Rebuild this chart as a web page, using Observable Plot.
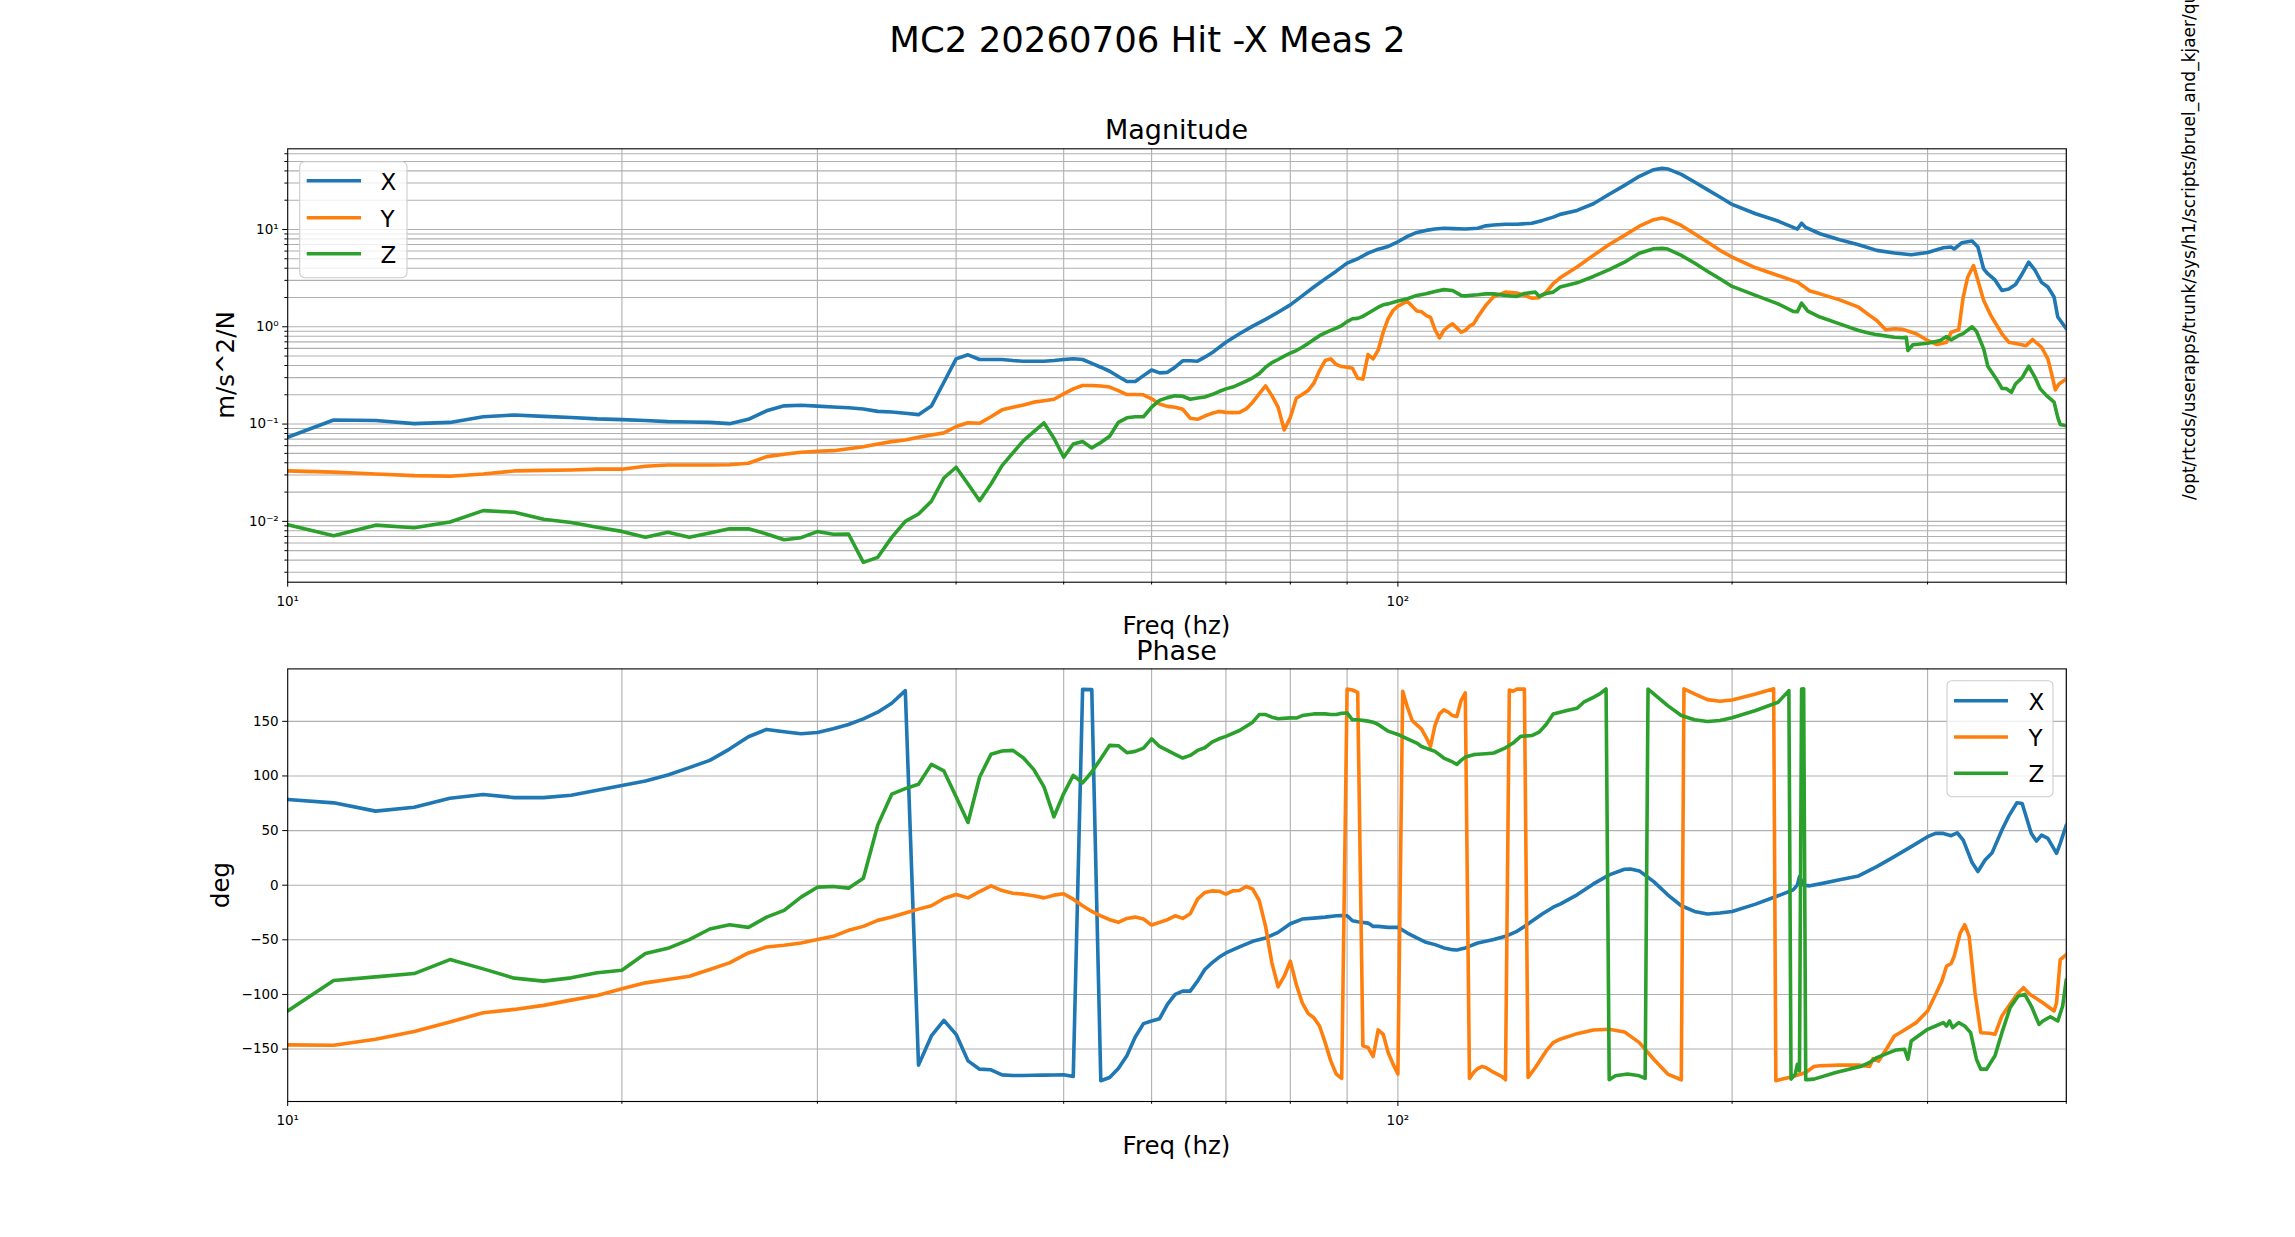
<!DOCTYPE html>
<html><head><meta charset="utf-8">
<script src="https://cdn.jsdelivr.net/npm/d3@7"></script>
<script src="https://cdn.jsdelivr.net/npm/@observablehq/plot@0.6"></script>
<style>
html,body{margin:0;padding:0;background:#fff;}
#fig{position:relative;width:2295px;height:1237px;overflow:hidden;background:#fff;font-family:"DejaVu Sans",sans-serif;}
#fig > svg{position:absolute;left:0;}
</style></head><body><div id="fig"></div>
<script>
// ---------- data: [frequency Hz, value] ----------
const magX = [[10,0.0732],[11,0.110],[12,0.109],[13,0.101],[14,0.104],[15,0.119],[16,0.124],[17,0.120],[18,0.117],[19,0.113],[20,0.111],[21,0.109],[22,0.106],[23,0.105],[24,0.104],[25,0.101],[26,0.112],[27,0.137],[28,0.154],[29,0.156],[30,0.153],[31,0.150],[32,0.147],[33,0.143],[34,0.135],[35,0.133],[36,0.129],[37,0.125],[38,0.153],[39,0.269],[40,0.468],[41,0.515],[42,0.461],[43,0.461],[44,0.461],[45,0.450],[46,0.443],[47,0.443],[48,0.443],[49,0.450],[50,0.461],[51,0.470],[52,0.461],[53,0.420],[54,0.384],[55,0.349],[56,0.308],[57,0.274],[58,0.274],[59,0.315],[60,0.360],[61,0.336],[62,0.340],[63,0.384],[64,0.447],[65,0.447],[66,0.443],[67,0.487],[68,0.540],[70,0.694],[72,0.847],[74,1.015],[76,1.19],[78,1.41],[80,1.68],[82,2.08],[84,2.56],[86,3.11],[88,3.73],[90,4.51],[92,5.0],[94,5.71],[96,6.28],[98,6.69],[100,7.48],[102,8.49],[104,9.33],[106,9.79],[108,10.1],[110,10.3],[112,10.2],[115,10.1],[118,10.3],[120,10.9],[122,11.1],[125,11.3],[128,11.3],[132,11.6],[135,12.4],[138,13.4],[140,14.3],[145,15.7],[150,18.4],[155,23.0],[160,28.4],[165,35.2],[170,41.2],[173,42.5],[175,41.9],[180,36.9],[185,30.8],[190,25.7],[195,21.6],[200,18.1],[210,14.5],[220,12.2],[229,10.1],[231,11.6],[233,10.5],[240,9.04],[250,7.85],[260,6.97],[270,6.1],[280,5.73],[290,5.5],[300,5.81],[310,6.49],[315,6.6],[317,6.3],[322,7.3],[329,7.6],[333,6.6],[337,3.93],[340,3.49],[345,3.03],[350,2.36],[355,2.45],[360,2.72],[365,3.49],[370,4.61],[375,3.79],[380,2.86],[385,2.56],[390,2.02],[393,1.26],[400,0.953]];

const magY = [[10,0.0330],[11,0.0321],[12,0.0307],[13,0.0295],[14,0.0291],[15,0.0307],[16,0.0330],[17,0.0334],[18,0.0337],[19,0.0344],[20,0.0344],[21,0.0368],[22,0.0379],[23,0.0379],[24,0.0379],[25,0.0382],[26,0.0396],[27,0.0463],[28,0.0490],[29,0.0514],[30,0.0525],[31,0.0533],[32,0.0558],[33,0.0585],[34,0.0625],[35,0.066],[36,0.0687],[37,0.0732],[38,0.0774],[39,0.0812],[40,0.0944],[41,0.103],[42,0.102],[43,0.119],[44,0.140],[45,0.149],[46,0.157],[47,0.168],[48,0.174],[49,0.180],[50,0.204],[51,0.230],[52,0.249],[53,0.249],[54,0.246],[55,0.240],[56,0.221],[57,0.201],[58,0.201],[59,0.200],[60,0.182],[61,0.161],[62,0.152],[63,0.149],[64,0.142],[65,0.115],[66,0.112],[67,0.121],[68,0.129],[69,0.135],[70,0.132],[71,0.131],[72,0.132],[73,0.143],[74,0.168],[75,0.204],[76,0.247],[77,0.196],[78,0.149],[79,0.0869],[80,0.117],[81,0.184],[82,0.201],[83,0.221],[84,0.263],[85,0.355],[86,0.450],[87,0.468],[88,0.41],[89,0.39],[90,0.384],[91,0.375],[92,0.296],[93,0.29],[94,0.518],[95,0.468],[96,0.578],[97,0.88],[98,1.21],[99,1.47],[100,1.63],[101,1.73],[102,1.82],[103,1.63],[104,1.45],[105,1.43],[106,1.31],[107,1.25],[108,0.932],[109,0.769],[110,0.916],[111,1.007],[112,1.07],[113,0.975],[114,0.88],[115,0.916],[116,1.015],[117,1.07],[118,1.26],[120,1.66],[122,2.05],[125,2.27],[128,2.22],[130,2.10],[132,1.97],[134,1.99],[136,2.27],[138,2.77],[140,3.19],[145,4.11],[150,5.42],[155,7.02],[160,8.69],[165,10.8],[170,12.6],[173,13.1],[175,12.7],[180,11.0],[185,9.04],[190,7.42],[195,6.10],[200,5.21],[210,4.04],[220,3.37],[229,2.88],[232,2.6],[235,2.33],[240,2.18],[250,1.89],[260,1.59],[266,1.31],[270,1.16],[275,0.932],[280,0.953],[285,0.94],[293,0.847],[300,0.723],[306,0.658],[312,0.695],[315,0.88],[320,0.932],[323,2.02],[326,3.23],[330,4.26],[333,2.99],[337,1.86],[342,1.31],[350,0.847],[355,0.695],[364,0.658],[368,0.64],[373,0.74],[380,0.616],[385,0.468],[388,0.328],[391,0.225],[394,0.258],[400,0.291]];

const magZ = [[10,0.00923],[11,0.00712],[12,0.00914],[13,0.00861],[14,0.00984],[15,0.0129],[16,0.0124],[17,0.0105],[18,0.00972],[19,0.00868],[20,0.00789],[21,0.00685],[22,0.00772],[23,0.00685],[24,0.00760],[25,0.00841],[26,0.00838],[27,0.00742],[28,0.00648],[29,0.00680],[30,0.00785],[31,0.00737],[32,0.00742],[33,0.00379],[34,0.00427],[35,0.00685],[36,0.0100],[37,0.0119],[38,0.0161],[39,0.0279],[40,0.0360],[41,0.0242],[42,0.0163],[43,0.0242],[44,0.0374],[45,0.0505],[46,0.0676],[47,0.0837],[48,0.1027],[49,0.0715],[50,0.0456],[51,0.0625],[52,0.0661],[53,0.0569],[54,0.0647],[55,0.075],[56,0.104],[57,0.116],[58,0.119],[59,0.119],[60,0.149],[61,0.175],[62,0.187],[63,0.195],[64,0.193],[65,0.180],[66,0.185],[67,0.190],[68,0.201],[69,0.216],[70,0.230],[71,0.240],[72,0.257],[73,0.277],[74,0.299],[75,0.33],[76,0.384],[77,0.428],[78,0.461],[79,0.50],[80,0.535],[81,0.57],[82,0.616],[83,0.675],[84,0.740],[85,0.81],[86,0.867],[87,0.92],[88,0.968],[89,1.03],[90,1.13],[91,1.21],[92,1.22],[93,1.28],[94,1.38],[96,1.59],[97,1.68],[98,1.72],[100,1.84],[102,1.94],[104,2.10],[106,2.18],[108,2.31],[110,2.41],[112,2.36],[114,2.10],[115,2.08],[118,2.13],[120,2.18],[122,2.18],[125,2.10],[128,2.05],[130,2.20],[133,2.27],[134,2.06],[136,2.20],[138,2.27],[140,2.56],[145,2.83],[150,3.29],[155,3.86],[160,4.61],[165,5.71],[170,6.34],[173,6.4],[175,6.3],[180,5.42],[185,4.52],[190,3.73],[195,3.11],[200,2.60],[210,2.10],[220,1.72],[227,1.44],[229,1.43],[231,1.75],[234,1.45],[240,1.26],[250,1.07],[260,0.916],[266,0.86],[270,0.83],[280,0.782],[285,0.77],[287,0.78],[288,0.57],[291,0.653],[300,0.678],[308,0.723],[312,0.795],[315,0.734],[320,0.814],[323,0.85],[329,1.0],[332,0.9],[337,0.593],[340,0.39],[346,0.291],[350,0.233],[353,0.232],[357,0.212],[360,0.258],[365,0.30],[370,0.393],[375,0.30],[379,0.23],[384,0.196],[390,0.168],[393,0.117],[395,0.099],[400,0.096]];

const phX = [[10,78.4],[11,75.4],[12,67.8],[13,71.4],[14,79.6],[15,83.0],[16,80.2],[17,80.2],[18,82.4],[19,86.9],[20,91.2],[21,95.4],[22,100.9],[23,107.6],[24,114.3],[25,124.6],[26,135.9],[27,142.6],[28,140.4],[29,138.6],[30,139.8],[31,143.2],[32,147.1],[33,152.3],[34,158.4],[35,166.6],[36,178.1],[37,-164.7],[38,-138],[39,-123.7],[40,-136.5],[41,-160.8],[42,-168.4],[43,-169],[44,-173.6],[45,-174.2],[46,-174.2],[47,-174],[48,-173.9],[49,-173.8],[50,-173.6],[51,-175.1],[52,179.3],[53,179],[54,-179],[55,-176],[56,-167.8],[57,-156.2],[58,-138.9],[59,-126.7],[60,-124.3],[61,-122.2],[62,-109.1],[63,-100],[64,-97],[65,-97],[66,-87.8],[67,-77.2],[68,-71.1],[69,-66],[70,-62],[72,-56.5],[74,-51.4],[76,-48.3],[78,-43.2],[80,-35.3],[82,-31],[84,-30.1],[86,-29.2],[88,-28],[89,-27.7],[90,-28],[91,-32.5],[92,-33.4],[94,-34.7],[95,-37.7],[96,-37.7],[98,-38.6],[100,-38.6],[102,-43.8],[104,-48.3],[106,-52.3],[108,-54.4],[110,-57.4],[112,-59],[113,-59.3],[115,-57.4],[118,-52.9],[120,-51.4],[122,-49.8],[125,-46.8],[128,-42.2],[130,-37.7],[132,-33.1],[135,-26.1],[138,-20.1],[140,-17.3],[145,-8.8],[150,1.2],[155,9.4],[160,14.6],[162,14.9],[165,13.1],[170,3.3],[175,-8.8],[180,-18.8],[185,-24],[190,-26.4],[195,-25.5],[200,-24],[210,-17.3],[220,-9.7],[227,-4.3],[229,0.3],[230,7.8],[232,0],[235,-0.6],[240,1.2],[250,4.9],[260,8.5],[270,17],[280,26.1],[290,35.3],[300,44.4],[305,47.4],[310,47.4],[315,45.3],[319,48],[323,41.3],[329,20.7],[333,12.5],[338,23.1],[343,29.8],[350,50.5],[355,63.2],[361,75.4],[365,74.8],[372,47.4],[376,40.4],[380,45.9],[385,42.9],[392,29.2],[395,38.3],[400,55]];

const phY = [[10,-146.2],[11,-146.5],[12,-141],[13,-134],[14,-125.2],[15,-116.7],[16,-113.7],[17,-110],[18,-105.2],[19,-100.9],[20,-94.8],[21,-89.4],[22,-86.3],[23,-83.3],[24,-77.2],[25,-71.1],[26,-62],[27,-56.5],[28,-55],[29,-52.9],[30,-49.8],[31,-46.8],[32,-41.3],[33,-37.7],[34,-32.2],[35,-29.2],[36,-25.5],[37,-21.9],[38,-18.8],[39,-12.2],[40,-8.5],[41,-11.6],[42,-5.8],[43,-0.6],[44,-4.9],[45,-7.3],[46,-8.2],[47,-9.7],[48,-11.6],[49,-9.1],[50,-7.9],[51,-12.8],[52,-18.8],[53,-24],[54,-28],[55,-31.6],[56,-34],[57,-30.4],[58,-29.2],[59,-31],[60,-36.5],[61,-34],[62,-31.6],[63,-28],[64,-30.4],[65,-26.1],[66,-12.8],[67,-6.7],[68,-5.2],[69,-5.5],[70,-8.2],[71,-5.2],[72,-4.9],[73,-1.2],[74,-3.6],[75,-14],[76,-37.7],[77,-71.1],[78,-93],[79,-83.3],[80,-69.6],[81,-90.9],[82,-107.6],[83,-117.3],[84,-121.3],[85,-128.9],[86,-144.1],[87,-160.8],[88,-172.9],[89,-176.9],[90,179.5],[91,178.7],[92,176.6],[93,-147.1],[94,-148.6],[95,-156.8],[96,-132.5],[97,-136.5],[98,-153.2],[99,-163.8],[100,-172.9],[101,177.5],[102,162.9],[103,150.8],[104,146.8],[105,143.2],[106,135.6],[107,127],[108,146.2],[109,156.8],[110,160.5],[111,158.4],[112,155.3],[113,154.4],[114,169],[115,176],[116,-176.9],[117,-171.4],[118,-167.8],[119,-166],[120,-166.9],[122,-171.4],[124,-175],[125,-178.1],[126,178.7],[127,177.5],[128,179.5],[130,179.5],[131,-176],[133,-166.9],[136,-151.7],[138,-144.1],[140,-141],[145,-135.9],[150,-132.5],[155,-131.9],[160,-134.3],[165,-144.1],[170,-159.3],[175,-172.9],[180,-178.1],[181,179.8],[185,175.1],[190,169.9],[195,168.4],[200,169.6],[210,175.1],[218,179.8],[219,-179],[227,-175.1],[233,-171.4],[237,-166],[240,-165.3],[250,-164.7],[260,-164.7],[266,-166],[268,-158.7],[271,-161],[276,-148.6],[280,-138],[285,-133.4],[293,-125.8],[300,-115.2],[305,-100],[309,-87.8],[312,-74.2],[315,-71.7],[317,-65],[321,-43.8],[324,-36.2],[327,-46.8],[331,-98.5],[335,-135],[341,-135.5],[345,-136.5],[350,-119.8],[355,-110.6],[361,-100],[366,-93.9],[371,-100],[375,-103],[381,-107.6],[390,-115.2],[392,-107.6],[395,-68.1],[400,-63.5]];

const phZ = [[10,-115.2],[11,-87.2],[12,-83.9],[13,-80.9],[14,-68.1],[15,-76.6],[16,-85.1],[17,-87.8],[18,-84.8],[19,-80.2],[20,-77.8],[21,-62.6],[22,-57.8],[23,-49.8],[24,-40.1],[25,-36.2],[26,-38.6],[27,-29.2],[28,-23.1],[29,-10.9],[30,-1.8],[31,-1.2],[32,-2.7],[33,6.4],[34,55],[35,83.3],[36,88.4],[37,92.4],[38,110.6],[39,104.6],[40,80.9],[41,57.4],[42,99.1],[43,119.8],[44,122.8],[45,123.4],[46,116.4],[47,105.8],[48,90],[49,62.6],[50,83.9],[51,100.6],[52,93.6],[53,103.6],[54,115.8],[55,128],[56,127.7],[57,121.3],[58,122.5],[59,125.5],[60,134],[61,127],[62,123.4],[63,119.8],[64,116.4],[65,118.8],[66,123.4],[67,125.8],[68,131],[69,134],[70,136.2],[72,141.6],[74,149.2],[75,156.2],[76,156.2],[77,153.8],[78,152.3],[80,153.2],[81,153],[82,155.3],[84,156.8],[86,156.8],[87,156.2],[88,156.2],[89,157.4],[90,157.7],[91,151.4],[92,151.4],[94,150.2],[95,149.2],[96,147.1],[98,141],[100,138],[102,134],[104,130.1],[105,127],[106,125.5],[107,124],[108,122.5],[110,116.4],[112,112.8],[113,110.6],[114,114.3],[115,117.3],[117,119.5],[118,119.8],[120,120.4],[122,121],[125,125.8],[127,130.1],[129,136.2],[132,137],[134,140.1],[136,147.1],[138,156.8],[140,158.4],[142,159.9],[145,162],[147,167.5],[150,172],[152,175.1],[154,179.6],[155,-178.1],[157,-174.5],[161,-172.9],[165,-174.5],[167,-176.9],[168,179.6],[170,175.1],[175,164.4],[180,155.3],[185,151.4],[190,149.8],[195,150.8],[200,153.2],[210,159.9],[220,167.5],[225,178.1],[226,-177.5],[228,-172.9],[229,-164],[230,-170],[231,179.5],[232,179.8],[233,-178],[234,-178],[237,-177.5],[248,-171.4],[261,-166],[266,-162.3],[270,-157.8],[281,-150.8],[286,-150.2],[288,-159.3],[290,-142.6],[300,-131.9],[305,-128.9],[310,-125.8],[312,-128.9],[314,-124.3],[316,-130.4],[320,-125.8],[324,-128.9],[328,-135],[332,-159.3],[335,-168.4],[339,-168.4],[345,-156.2],[350,-135],[356,-112.2],[362,-101.5],[367,-100],[372,-110.6],[378,-127.4],[381,-124.3],[387,-120.4],[393,-124.3],[397,-110.6],[400,-86.3]];

// ---------- tick and label values ----------
const seriesNames = ["X", "Y", "Z"];
const seriesColors = ["#1f77b4", "#ff7f0e", "#2ca02c"];
const xMajorTicks = [10, 100];
const xMinorTicks = [20, 30, 40, 50, 60, 70, 80, 90, 200, 300, 400];
const magMajorTicks = [0.01, 0.1, 1, 10];
const magMinorTicks = [];
for (const e of [-3, -2, -1, 0, 1]) for (let k = 2; k <= 9; k++) {
  const v = +(k * Math.pow(10, e)).toPrecision(3);
  if (v > 0.00237 && v < 67.5) magMinorTicks.push(v);
}
const phaseTicks = [-150, -100, -50, 0, 50, 100, 150];
const titleText = "MC2 20260706 Hit -X Meas 2";
const pathText = "/opt/rtcds/userapps/trunk/sys/h1/scripts/bruel_and_kjaer/qu";

// ---------- layout ----------
const W = 2295, H = 1237;
const FL = 287.2, FR = 2065.8;
const LW = 3.6;
const sup = {"-":"\u207B","0":"\u2070","1":"\u00B9","2":"\u00B2","3":"\u00B3"};
const fmtPow = d => "10" + String(Math.round(Math.log10(d))).split("").map(c => sup[c]).join("");
const fmtDeg = d => d < 0 ? "\u2212" + Math.abs(d) : String(d);
const rows = pairs => pairs.map(([f, v]) => ({f, v}));

const fig = document.getElementById("fig");

function panel({top, height, mTop, mBottom, yScale, yGrid, yMajor, yMinor, yFmt, series}) {
  const marks = [
    Plot.ruleY(yGrid, {stroke: "#b0b0b0", strokeWidth: 1.1}),
    Plot.ruleX(xMinorTicks.concat([100]), {stroke: "#b0b0b0", strokeWidth: 1.1}),
  ];
  series.forEach((s, i) => marks.push(Plot.line(rows(s), {x: "f", y: "v", stroke: seriesColors[i], strokeWidth: LW, strokeLinejoin: "round", clip: true})));
  marks.push(Plot.frame({stroke: "black", strokeWidth: 1.1}));
  marks.push(Plot.axisX({ticks: xMajorTicks, tickFormat: fmtPow, tickSize: 5, tickPadding: 9, label: null, fontSize: 13.5}));
  marks.push(Plot.axisX({ticks: xMinorTicks, tickFormat: () => "", tickSize: 2.8, label: null}));
  marks.push(Plot.axisY({ticks: yMajor, tickFormat: yFmt, tickSize: 5, tickPadding: 4, label: null, fontSize: 13.5}));
  if (yMinor) marks.push(Plot.axisY({ticks: yMinor, tickFormat: () => "", tickSize: 2.8, label: null}));
  const svg = Plot.plot({
    width: W, height,
    marginLeft: FL, marginRight: W - FR, marginTop: mTop, marginBottom: mBottom,
    style: {background: "transparent", fontFamily: "DejaVu Sans", fontSize: "13.5px", color: "black"},
    x: {type: "log", domain: [10, 400], label: null},
    y: Object.assign({label: null}, yScale),
    marks
  });
  svg.style.top = top + "px";
  fig.appendChild(svg);
}

panel({top: 100, height: 520, mTop: 48.3, mBottom: 38.3,
  yScale: {type: "log", domain: [0.00237, 67.5]},
  yGrid: magMajorTicks.concat(magMinorTicks), yMajor: magMajorTicks, yMinor: magMinorTicks, yFmt: fmtPow,
  series: [magX, magY, magZ]});

panel({top: 620, height: 520, mTop: 48.4, mBottom: 39,
  yScale: {type: "linear", domain: [-198, 198]},
  yGrid: phaseTicks, yMajor: phaseTicks, yMinor: null, yFmt: fmtDeg,
  series: [phX, phY, phZ]});

// ---------- overlay text and legends ----------
const ov = d3.select(fig).append("svg").attr("width", W).attr("height", H)
  .style("position", "absolute").style("top", "0px").style("left", "0px")
  .attr("font-family", "DejaVu Sans");

function txt(x, y, s, size, anchor = "middle", rot = 0) {
  const t = ov.append("text").attr("x", x).attr("y", y).attr("font-size", size)
    .attr("text-anchor", anchor).attr("fill", "black").text(s);
  if (rot) t.attr("transform", `rotate(${rot},${x},${y})`);
}
const cx = (FL + FR) / 2;
txt(1147.5, 51.5, titleText, 35.5);
txt(cx, 138.5, "Magnitude", 27);
txt(cx, 634, "Freq (hz)", 24.5);
txt(cx, 659.5, "Phase", 27);
txt(cx, 1154, "Freq (hz)", 24.5);
txt(234, 365, "m/s^2/N", 24.5, "middle", -90);
txt(229, 885, "deg", 24.5, "middle", -90);
txt(2195, 500, pathText, 17, "start", -90);

function legend(bx, by, bw, bh, lx0, lx1, rowsY, tx, baseY) {
  ov.append("rect").attr("x", bx).attr("y", by).attr("width", bw).attr("height", bh)
    .attr("rx", 5).attr("fill", "white").attr("fill-opacity", 0.8)
    .attr("stroke", "#cccccc").attr("stroke-width", 1.1);
  seriesNames.forEach((n, i) => {
    ov.append("line").attr("x1", lx0).attr("x2", lx1).attr("y1", rowsY[i]).attr("y2", rowsY[i])
      .attr("stroke", seriesColors[i]).attr("stroke-width", LW);
    txt(tx, baseY[i], n, 23, "start");
  });
}
legend(299.7, 161.7, 107.3, 116, 306.7, 361, [180.7, 217.7, 253.7], 380.5, [190, 226.7, 263.3]);
legend(1947, 680.7, 106, 116, 1954, 2008, [700.7, 737, 773.3], 2028.6, [709.5, 745.8, 782]);
</script></body></html>
